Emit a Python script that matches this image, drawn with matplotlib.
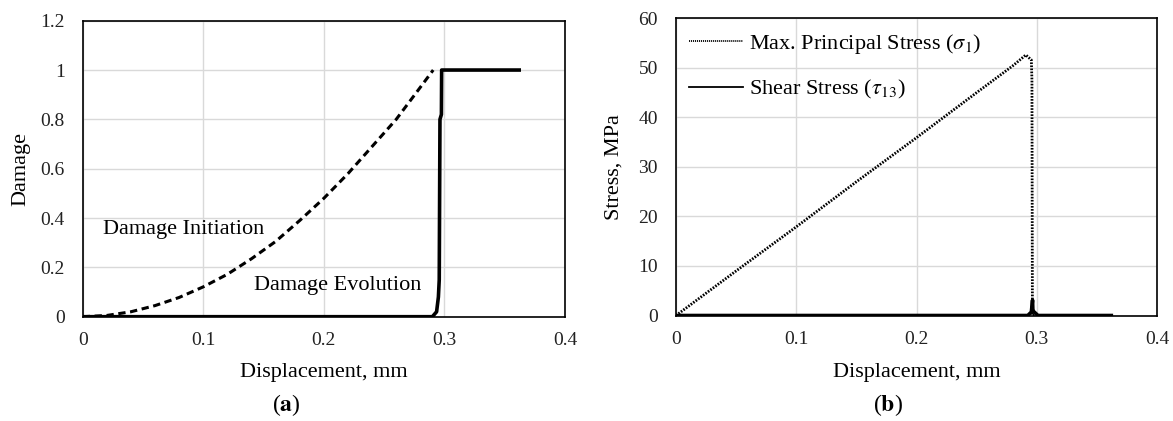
import matplotlib
matplotlib.use("Agg")
import matplotlib.pyplot as plt

plt.rcParams['font.family'] = ['Liberation Serif', 'DejaVu Serif']
plt.rcParams['mathtext.fontset'] = 'stix'

# ---- Panel (a): damage ----
init_x = [0, 0.02, 0.04, 0.06, 0.08, 0.10, 0.12, 0.14, 0.16, 0.18, 0.20, 0.22, 0.24, 0.26, 0.28, 0.2907]
init_y = [0, 0.005, 0.02, 0.045, 0.078, 0.121, 0.172, 0.235, 0.305, 0.39, 0.48, 0.58, 0.69, 0.80, 0.93, 1.0]

evol_x = [0, 0.290, 0.2935, 0.2950, 0.2957, 0.2963, 0.2975, 0.2977, 0.362]
evol_y = [0, 0, 0.02, 0.08, 0.15, 0.80, 0.82, 1.0, 1.0]

# ---- Panel (b): stress ----
s1_x = [0, 0.05, 0.10, 0.15, 0.20, 0.25, 0.28, 0.2909, 0.2955, 0.2960, 0.2964, 0.362]
s1_y = [0, 9.0, 17.9, 27.0, 35.9, 45.0, 50.4, 52.6, 51.6, 47.5, 0, 0]

shear_x = [0, 0.2925, 0.2955, 0.2965, 0.2968, 0.2975, 0.3010, 0.362]
shear_y = [0, 0, 0.7, 3.1, 0.9, 0.8, 0, 0]

xticks = [0, 0.1, 0.2, 0.3, 0.4]
xtick_labels = ['0', '0.1', '0.2', '0.3', '0.4']
a_yticks = [0, 0.2, 0.4, 0.6, 0.8, 1.0, 1.2]
a_ytick_labels = ['0', '0.2', '0.4', '0.6', '0.8', '1', '1.2']
b_yticks = [0, 10, 20, 30, 40, 50, 60]
b_ytick_labels = ['0', '10', '20', '30', '40', '50', '60']

fig = plt.figure(figsize=(11.73, 4.21), dpi=100)
W, H = 1173, 421
ax1 = fig.add_axes([82.7 / W, 1 - 316.7 / H, (565 - 82.7) / W, (316.7 - 20.7) / H])
ax2 = fig.add_axes([676 / W, 1 - 315.5 / H, (1157 - 676) / W, (315.5 - 18.3) / H])

def style(ax, yticks, ylabels, ylim):
    ax.set_xlim(0, 0.4)
    ax.set_ylim(*ylim)
    ax.set_xticks(xticks)
    ax.set_xticklabels(xtick_labels)
    ax.set_yticks(yticks)
    ax.set_yticklabels(ylabels)
    ax.grid(True, color='#d9d9d9', linewidth=1.0)
    ax.set_axisbelow(True)
    ax.tick_params(axis='both', length=0, labelsize=14, colors='#222222')
    ax.tick_params(axis='x', pad=11)
    ax.tick_params(axis='y', pad=13)
    for sp in ax.spines.values():
        sp.set_color('black')
        sp.set_linewidth(1.2)

style(ax1, a_yticks, a_ytick_labels, (0, 1.2))
style(ax2, b_yticks, b_ytick_labels, (0, 60))

ax1.plot(init_x, init_y, color='black', linewidth=2.2, linestyle=(0, (2.4, 1.5)))
ax1.plot(evol_x, evol_y, color='black', linewidth=2.6, solid_joinstyle='round')
ax1.text(0.0172, 0.355, 'Damage Initiation', fontsize=16, va='center', ha='left')
ax1.text(0.142, 0.128, 'Damage Evolution', fontsize=16, va='center', ha='left')
ax1.set_xlabel('Displacement, mm', fontsize=16, va='center')
ax1.set_ylabel('Damage', fontsize=16, va='center')
ax1.xaxis.set_label_coords(0.5, (316.7 - 372) / 296)
ax1.yaxis.set_label_coords((20.7 - 82.7) / 482.3, 0.5)

ax2.plot(s1_x, s1_y, color='black', linewidth=2.0, linestyle=(0, (0.6, 0.5)),
         label=r'Max. Principal Stress ($\sigma_{\mathit{1}}$)')
ax2.plot(shear_x, shear_y, color='black', linewidth=2.6,
         label=r'Shear Stress ($\tau_{\mathit{13}}$)')
ax2.set_xlabel('Displacement, mm', fontsize=16, va='center')
ax2.set_ylabel('Stress, MPa', fontsize=16, va='center')
ax2.xaxis.set_label_coords(0.5, (315.5 - 372) / 297.2)
ax2.yaxis.set_label_coords((614 - 676) / 481, 0.5)
leg = ax2.legend(loc='upper left', frameon=False, fontsize=16, handlelength=2.4,
                 handletextpad=0.3, labelspacing=1.0, borderaxespad=0.2,
                 bbox_to_anchor=(0.0, 1.0))
for h in leg.get_lines():
    h.set_linewidth(1.3)

fig.text(286 / W, 1 - 405 / H, r'($\mathbf{a}$)', fontsize=17, ha='center', va='center')
fig.text(888 / W, 1 - 405 / H, r'($\mathbf{b}$)', fontsize=17, ha='center', va='center')

fig.savefig('out.png', dpi=100)
